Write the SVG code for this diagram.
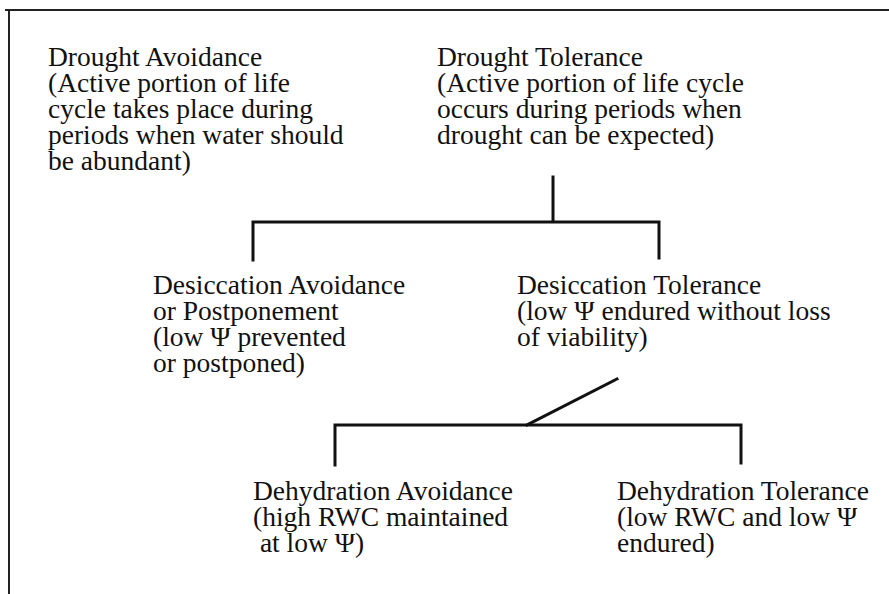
<svg xmlns="http://www.w3.org/2000/svg" width="889" height="594" viewBox="0 0 889 594">
<style>
.t text{font-size:27.5px;fill:#111}
.ln{stroke:#111;stroke-width:3;fill:none;stroke-linecap:square}
.fr{stroke:#222;stroke-width:2;fill:none}
</style>
<rect width="889" height="594" fill="#fff"/>
<path class="fr" d="M5 10H889M9 10V594"/>
<g class="t" font-family="'Liberation Serif', 'Times New Roman', Times, 'DejaVu Serif', serif">
<g id="drought-avoidance">
<text x="48" y="66">Drought Avoidance</text>
<text x="48" y="92">(Active portion of life</text>
<text x="48" y="118">cycle takes place during</text>
<text x="48" y="144">periods when water should</text>
<text x="48" y="170">be abundant)</text>
</g>
<g id="drought-tolerance">
<text x="437" y="66">Drought Tolerance</text>
<text x="437" y="92">(Active portion of life cycle</text>
<text x="437" y="118">occurs during periods when</text>
<text x="437" y="144">drought can be expected)</text>
</g>
<g id="desiccation-avoidance">
<text x="153" y="294">Desiccation Avoidance</text>
<text x="153" y="320">or Postponement</text>
<text x="153" y="346">(low Ψ prevented</text>
<text x="153" y="372">or postponed)</text>
</g>
<g id="desiccation-tolerance">
<text x="517" y="294">Desiccation Tolerance</text>
<text x="517" y="320">(low Ψ endured without loss</text>
<text x="517" y="346">of viability)</text>
</g>
<g id="dehydration-avoidance">
<text x="253" y="500">Dehydration Avoidance</text>
<text x="253" y="526">(high RWC maintained</text>
<text x="253" y="552" xml:space="preserve"> at low Ψ)</text>
</g>
<g id="dehydration-tolerance">
<text x="617" y="500">Dehydration Tolerance</text>
<text x="617" y="526">(low RWC and low Ψ</text>
<text x="617" y="552">endured)</text>
</g>
</g>
<g id="connectors">
<path class="ln" d="M553 177V221"/>
<path class="ln" d="M253 260V222H659V258"/>
<path class="ln" d="M617 379L527 425"/>
<path class="ln" d="M335 465V425H741V463"/>
</g>
</svg>
